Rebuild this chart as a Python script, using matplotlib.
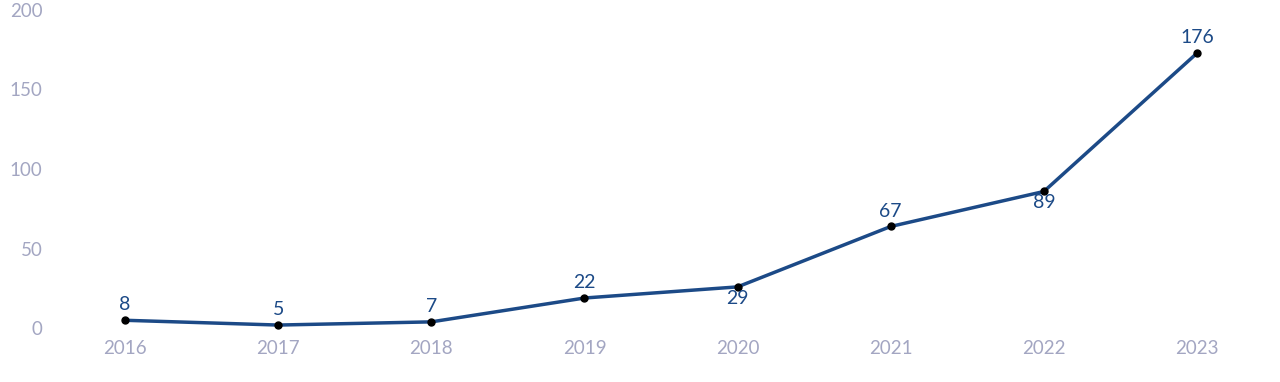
import matplotlib.pyplot as plt
import matplotlib.transforms as mtransforms

years = [2016, 2017, 2018, 2019, 2020, 2021, 2022, 2023]
counts = [8, 5, 7, 22, 29, 67, 89, 176]
below = [False, False, False, False, True, False, True, False]
yticks = [0, 50, 100, 150, 200]

line_col = '#1c4a87'
tick_col = '#a3a6c2'

plt.rcParams['font.family'] = ['Lato', 'DejaVu Sans']

fig = plt.figure(figsize=(12.8, 3.82), dpi=100)
ax = fig.add_axes([55 / 1280, 49 / 382, 1 - 55 / 1280, 318 / 382])

ax.plot(years, counts, color=line_col, lw=2.5, zorder=2)
ax.plot(years, counts, 'o', color='black', ms=5, zorder=3)

for x, y, b in zip(years, counts, below):
    if b:
        ax.annotate(str(y), (x, y), xytext=(0, -2), textcoords='offset points',
                    ha='center', va='top', fontsize=14, color=line_col)
    else:
        ax.annotate(str(y), (x, y), xytext=(0, 5), textcoords='offset points',
                    ha='center', va='bottom', fontsize=14, color=line_col)

ax.set_xlim(2016 - 70 / 153.14, 2023 + 83 / 153.14)
ax.set_ylim(0, 200)
ax.set_xticks(years)
ax.set_yticks(yticks)
ax.tick_params(length=0, labelsize=13.5, labelcolor=tick_col)
ax.tick_params(axis='y', pad=9)
ax.tick_params(axis='x', pad=5)
for lab in ax.get_yticklabels():
    lab.set_transform(lab.get_transform() +
                      mtransforms.ScaledTranslation(0, 5 / 100, fig.dpi_scale_trans))
for s in ax.spines.values():
    s.set_visible(False)

fig.savefig('out.png', dpi=100)
